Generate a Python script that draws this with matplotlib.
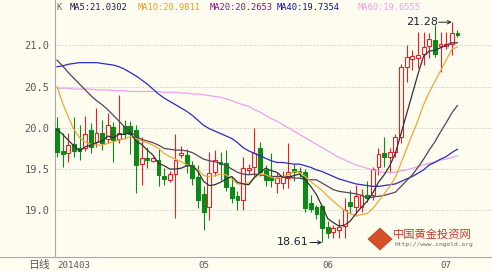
import matplotlib
matplotlib.use("Agg")
import matplotlib.pyplot as plt
from matplotlib.patches import Polygon
from matplotlib.lines import Line2D

# ---------------- data ----------------
opens = [20.00, 19.72, 19.69, 19.80, 19.76, 19.75, 19.97, 19.83, 19.94, 19.87,
         20.01, 19.86, 20.02, 20.02, 19.97, 19.56, 19.64, 19.60, 19.61, 19.42,
         19.37, 19.44, 19.67, 19.67, 19.55, 19.40, 19.20, 19.04, 19.47, 19.59,
         19.57, 19.28, 19.17, 19.12, 19.49, 19.53, 19.75, 19.49, 19.41, 19.33,
         19.33, 19.39, 19.50, 19.48, 19.46, 19.09, 19.04, 19.05, 18.80, 18.74,
         18.76, 18.81, 19.10, 19.04, 19.04, 19.19, 19.19, 19.53, 19.69, 19.65,
         19.71, 19.89, 20.74, 20.83, 20.85, 20.89, 20.99, 21.07, 20.99, 20.99,
         21.02, 21.15]
highs = [20.13, 19.94, 19.94, 20.13, 20.03, 20.14, 20.06, 20.24, 20.09, 20.18,
         20.07, 20.40, 20.10, 20.08, 20.03, 19.89, 19.77, 19.65, 19.74, 19.51,
         19.48, 19.92, 19.78, 19.74, 19.60, 19.55, 19.30, 19.71, 19.73, 19.71,
         19.73, 19.40, 19.23, 19.65, 19.56, 20.00, 19.83, 19.55, 19.69, 19.45,
         19.48, 19.82, 19.56, 19.52, 19.50, 19.19, 19.07, 19.07, 18.87, 18.82,
         18.90, 19.15, 19.25, 19.31, 19.26, 19.35, 19.53, 19.75, 19.89, 19.75,
         19.93, 20.77, 21.00, 20.94, 21.16, 21.16, 21.15, 21.25, 21.16, 21.16,
         21.28, 21.19]
lows = [19.65, 19.53, 19.59, 19.65, 19.61, 19.72, 19.69, 19.77, 19.73, 19.81,
        19.59, 19.82, 19.86, 19.68, 19.21, 19.31, 19.51, 19.58, 19.29, 19.31,
        19.34, 18.91, 19.64, 19.45, 19.31, 19.03, 18.76, 18.88, 19.41, 19.37,
        19.23, 19.09, 19.00, 19.00, 19.44, 19.41, 19.41, 19.29, 19.28, 19.21,
        19.26, 19.27, 19.35, 19.40, 18.98, 18.98, 18.90, 18.61, 18.66, 18.67,
        18.66, 18.66, 18.95, 18.96, 18.98, 19.10, 19.12, 19.43, 19.53, 19.45,
        19.65, 19.82, 20.56, 20.70, 20.72, 20.76, 20.84, 20.86, 20.68, 20.96,
        20.88, 21.10]
closes = [19.71, 19.68, 19.79, 19.72, 19.72, 19.93, 19.77, 19.94, 19.82, 20.03,
          19.85, 19.94, 19.94, 19.93, 19.55, 19.63, 19.61, 19.63, 19.43, 19.38,
          19.44, 19.61, 19.70, 19.55, 19.39, 19.12, 18.98, 19.45, 19.61, 19.56,
          19.28, 19.15, 19.12, 19.51, 19.51, 19.70, 19.47, 19.37, 19.37, 19.39,
          19.42, 19.46, 19.46, 19.46, 19.03, 19.02, 18.96, 18.78, 18.73, 18.78,
          18.80, 19.00, 19.05, 19.17, 19.19, 19.15, 19.50, 19.68, 19.65, 19.71,
          19.89, 20.74, 20.86, 20.87, 20.88, 20.98, 21.08, 20.90, 21.02, 21.02,
          21.15, 21.13]

ma5 = [19.98, 19.92, 19.85, 19.78, 19.72, 19.77, 19.79, 19.82, 19.84, 19.90,
       19.88, 19.92, 19.92, 19.94, 19.84, 19.80, 19.73, 19.67, 19.57, 19.54,
       19.50, 19.50, 19.51, 19.54, 19.54, 19.47, 19.35, 19.30, 19.31, 19.34,
       19.38, 19.41, 19.34, 19.32, 19.31, 19.40, 19.46, 19.51, 19.48, 19.46,
       19.40, 19.40, 19.42, 19.44, 19.37, 19.29, 19.19, 19.05, 18.90, 18.85,
       18.81, 18.82, 18.87, 18.96, 19.04, 19.11, 19.21, 19.34, 19.43, 19.54,
       19.69, 19.93, 20.17, 20.41, 20.65, 20.87, 20.93, 20.94, 20.97, 21.00,
       21.03, 21.03]
ma10 = [20.50, 20.30, 20.13, 19.98, 19.88, 19.83, 19.80, 19.79, 19.79, 19.81,
        19.83, 19.85, 19.87, 19.89, 19.87, 19.84, 19.82, 19.79, 19.75, 19.69,
        19.65, 19.62, 19.59, 19.55, 19.54, 19.49, 19.42, 19.41, 19.42, 19.44,
        19.43, 19.38, 19.32, 19.32, 19.33, 19.39, 19.44, 19.43, 19.40, 19.39,
        19.40, 19.43, 19.47, 19.46, 19.41, 19.35, 19.29, 19.24, 19.17, 19.11,
        19.05, 19.00, 18.96, 18.93, 18.95, 18.96, 19.02, 19.11, 19.20, 19.29,
        19.40, 19.57, 19.75, 19.92, 20.09, 20.28, 20.43, 20.56, 20.69, 20.82,
        20.95, 20.98]
ma20 = [20.82, 20.75, 20.67, 20.60, 20.53, 20.46, 20.39, 20.33, 20.28, 20.22,
        20.15, 20.08, 20.01, 19.95, 19.90, 19.86, 19.84, 19.82, 19.79, 19.75,
        19.74, 19.73, 19.73, 19.72, 19.70, 19.66, 19.62, 19.60, 19.59, 19.57,
        19.54, 19.50, 19.46, 19.44, 19.43, 19.44, 19.43, 19.42, 19.41, 19.41,
        19.41, 19.41, 19.39, 19.39, 19.37, 19.37, 19.37, 19.33, 19.29, 19.25,
        19.23, 19.22, 19.21, 19.20, 19.18, 19.15, 19.16, 19.17, 19.18, 19.20,
        19.22, 19.29, 19.36, 19.43, 19.52, 19.62, 19.73, 19.83, 19.95, 20.06,
        20.18, 20.27]
ma40 = [20.74, 20.75, 20.77, 20.78, 20.79, 20.79, 20.79, 20.79, 20.78, 20.77,
        20.76, 20.74, 20.71, 20.67, 20.63, 20.58, 20.53, 20.47, 20.41, 20.36,
        20.32, 20.28, 20.24, 20.20, 20.15, 20.09, 20.03, 19.99, 19.96, 19.93,
        19.90, 19.87, 19.82, 19.76, 19.72, 19.69, 19.66, 19.63, 19.60, 19.58,
        19.58, 19.57, 19.56, 19.56, 19.54, 19.52, 19.49, 19.47, 19.44, 19.41,
        19.38, 19.36, 19.34, 19.32, 19.31, 19.30, 19.29, 19.29, 19.30, 19.31,
        19.32, 19.35, 19.38, 19.41, 19.45, 19.49, 19.55, 19.58, 19.62, 19.65,
        19.70, 19.74]
ma60 = [20.48, 20.48, 20.48, 20.47, 20.47, 20.47, 20.47, 20.46, 20.46, 20.46,
        20.45, 20.45, 20.45, 20.44, 20.44, 20.44, 20.44, 20.44, 20.44, 20.43,
        20.43, 20.43, 20.42, 20.42, 20.41, 20.41, 20.40, 20.39, 20.38, 20.37,
        20.35, 20.33, 20.30, 20.28, 20.26, 20.22, 20.19, 20.15, 20.11, 20.08,
        20.04, 20.00, 19.96, 19.92, 19.88, 19.84, 19.80, 19.76, 19.72, 19.68,
        19.64, 19.61, 19.58, 19.55, 19.53, 19.51, 19.49, 19.47, 19.46, 19.46,
        19.46, 19.48, 19.49, 19.51, 19.53, 19.55, 19.57, 19.59, 19.61, 19.62,
        19.64, 19.66]

month_pos = [0, 25, 47, 68]
month_labels = ["201403", "05", "06", "07"]
y_ticks = [19.0, 19.5, 20.0, 20.5, 21.0]
title_items = [("K", "#606060"), ("MA5:21.0302", "#1a1a4a"),
               ("MA10:20.9811", "#e8a010"), ("MA20:20.2653", "#8a108a"),
               ("MA40:19.7354", "#1010a0"), ("MA60:19.6555", "#f49af0")]
title_x = [56, 70, 138, 210, 277, 358]

# ---------------- style ----------------
W, H = 492, 271
BG = "#fffdf0"
UP = "#e8202a"
DOWN = "#0c8a18"
plt.rcParams['font.family'] = ['DejaVu Sans Mono', 'Noto Sans CJK SC']

fig = plt.figure(figsize=(W / 100, H / 100), dpi=100, facecolor=BG)
ax = fig.add_axes([55 / W, 1 - 257 / H, (W - 55) / W, 257 / H], facecolor=BG)

n = len(closes)
xs = list(range(n))
for i in xs:
    o, h, l, c = opens[i], highs[i], lows[i], closes[i]
    up = c >= o
    col = UP if up else DOWN
    ax.vlines(i, l, h, color=col, lw=0.8, zorder=2)
    bot = min(o, c)
    ht = max(abs(c - o), 0.004)
    ax.bar(i, ht, bottom=bot, width=0.68, facecolor=BG if up else DOWN,
           edgecolor=col, linewidth=0.8, zorder=3)

ax.plot(xs, ma60, color="#f0a0ec", lw=0.9, zorder=4)
ax.plot(xs, ma40, color="#2a2ac8", lw=0.9, zorder=4)
ax.plot(xs, ma20, color="#5a405a", lw=0.9, zorder=4)
ax.plot(xs, ma10, color="#f0a838", lw=0.9, zorder=4)
ax.plot(xs, ma5, color="#30303a", lw=0.9, zorder=4)

ax.set_xlim(-0.355, 77.13)
ax.set_ylim(18.434, 21.549)

ax.set_yticks(y_ticks)
ax.set_yticklabels([f"{v:.1f}" for v in y_ticks], color="#5a5a5a", fontsize=7.5)
ax.tick_params(axis='y', length=0, pad=4)
ax.set_xticks(month_pos)
ax.set_xticklabels(month_labels, color="#5a5a5a", fontsize=6.6, ha='left')
ax.tick_params(axis='x', length=0, pad=3)

ax.yaxis.grid(True, linestyle=(0, (1, 1.5)), color="#c4c4c4", linewidth=0.7, zorder=0)
ax.xaxis.grid(False)
ax.set_axisbelow(True)
for s in ("top", "right"):
    ax.spines[s].set_visible(False)
for s in ("left", "bottom"):
    ax.spines[s].set_color("#a8a8a8")
    ax.spines[s].set_linewidth(0.8)

fig.lines.append(Line2D([0, 55 / W], [1 - 257 / H, 1 - 257 / H],
                        transform=fig.transFigure, color="#a8a8a8", lw=0.8))

fig.text(50 / W, 1 - 265 / H, "日线", ha='right', va='center', color="#5a5a5a",
         fontsize=7.8, family=['Noto Sans CJK SC', 'DejaVu Sans'])

for (txt, col), x in zip(title_items, title_x):
    fig.text(x / W, 1 - 7 / H, txt, ha='left', va='center', color=col, fontsize=6.3)

# annotations of extremes
hi_i = highs.index(max(highs))
lo_i = lows.index(min(lows))
ann_col = "#1c2434"
ax.annotate(f"{highs[hi_i]:.2f}", xy=(hi_i, highs[hi_i]), xytext=(-14, 0),
            textcoords='offset pixels', ha='right', va='center', color=ann_col,
            fontsize=8, family='DejaVu Sans', zorder=6)
ax.annotate("", xy=(hi_i, highs[hi_i]), xytext=(-13, 0), textcoords='offset pixels',
            arrowprops=dict(arrowstyle='->', color=ann_col, lw=0.7,
                            shrinkA=0, shrinkB=0, mutation_scale=6), zorder=6)
ax.annotate(f"{lows[lo_i]:.2f}", xy=(lo_i, lows[lo_i]), xytext=(-13, 0),
            textcoords='offset pixels', ha='right', va='center', color=ann_col,
            fontsize=8, family='DejaVu Sans', zorder=6)
ax.annotate("", xy=(lo_i, lows[lo_i]), xytext=(-12, 0), textcoords='offset pixels',
            arrowprops=dict(arrowstyle='->', color=ann_col, lw=0.7,
                            shrinkA=0, shrinkB=0, mutation_scale=6), zorder=6)

# watermark logo
cx, cy, rx, ry = 380, 239, 12, 11
pts = [((cx) / W, 1 - (cy - ry) / H), ((cx + rx) / W, 1 - cy / H),
       (cx / W, 1 - (cy + ry) / H), ((cx - rx) / W, 1 - cy / H)]
fig.patches.append(Polygon(pts, closed=True, transform=fig.transFigure,
                           facecolor="#d4502a", edgecolor="#c04020", lw=0.5, zorder=5))
fig.text(cx / W, 1 - cy / H, "AU", ha='center', va='center', color="white",
         fontsize=4.5, family='DejaVu Sans', weight='bold')
fig.text(393 / W, 1 - 234 / H, "中国黄金投资网", ha='left', va='center', color="#c63a26",
         fontsize=8.1, family=['Noto Sans CJK SC', 'DejaVu Sans'])
fig.text(394 / W, 1 - 244.5 / H, "http://www.cngold.org", ha='left', va='center',
         color="#666666", fontsize=4.5)

fig.savefig("out.png", dpi=100, facecolor=BG)
